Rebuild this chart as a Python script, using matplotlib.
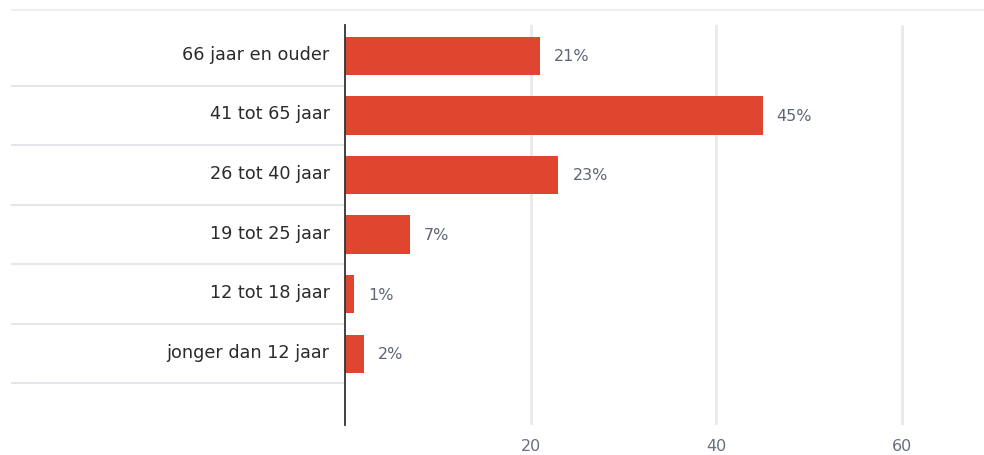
import matplotlib
matplotlib.use("Agg")
import matplotlib.pyplot as plt
import matplotlib.transforms as mtransforms
from matplotlib.lines import Line2D

categories = ["66 jaar en ouder", "41 tot 65 jaar", "26 tot 40 jaar",
              "19 tot 25 jaar", "12 tot 18 jaar", "jonger dan 12 jaar"]
values = [21, 45, 23, 7, 1, 2]
labels = ["21%", "45%", "23%", "7%", "1%", "2%"]
xticks = [20, 40, 60]

plt.rcParams['font.family'] = ['DejaVu Sans']
fig = plt.figure(figsize=(9.84, 4.55), dpi=100)
ax = fig.add_axes([345/984, 30/455, 1 - 345/984, 400/455])

ypos = list(range(len(categories)))
ax.barh(ypos, values, height=0.64, color="#E0452F", zorder=3)
ax.set_xlim(0, 68.85)
ax.set_ylim(6.2, -0.52)

for y, v, lab in zip(ypos, values, labels):
    ax.annotate(lab, (v, y), xytext=(14, -1), textcoords="offset pixels",
                va="center", ha="left", fontsize=11.5, color="#5d6577")

# category labels
ax.set_yticks(ypos)
ax.set_yticklabels(categories, fontsize=12.7, color="#2b2b2b")
ax.tick_params(axis="y", length=0, pad=11)
shift_up = mtransforms.ScaledTranslation(0, 3/100, fig.dpi_scale_trans)
for t in ax.get_yticklabels():
    t.set_transform(t.get_transform() + shift_up)

# separators
for i in range(len(categories)):
    ax.plot([-333/639, 0], [i + 0.5, i + 0.5], transform=ax.get_yaxis_transform(),
            color="#e6e6ea", lw=1.5, clip_on=False, zorder=1)

ax.set_xticks(xticks)
ax.set_xticklabels([str(t) for t in xticks], fontsize=11.5, color="#666e80")
ax.tick_params(axis="x", length=0, pad=10)
ax.grid(axis="x", color="#e8e8ee", lw=2, zorder=0)
ax.grid(axis="y", visible=False)

for s in ["top", "right", "bottom"]:
    ax.spines[s].set_visible(False)
ax.spines["left"].set_color("#333333")
ax.spines["left"].set_linewidth(1.3)
ax.spines["left"].set_zorder(4)

fig.add_artist(Line2D([12/984, 1], [1 - 10/455, 1 - 10/455], transform=fig.transFigure,
                      color="#eeeef0", lw=1.5))

fig.savefig("out.png", dpi=100)
